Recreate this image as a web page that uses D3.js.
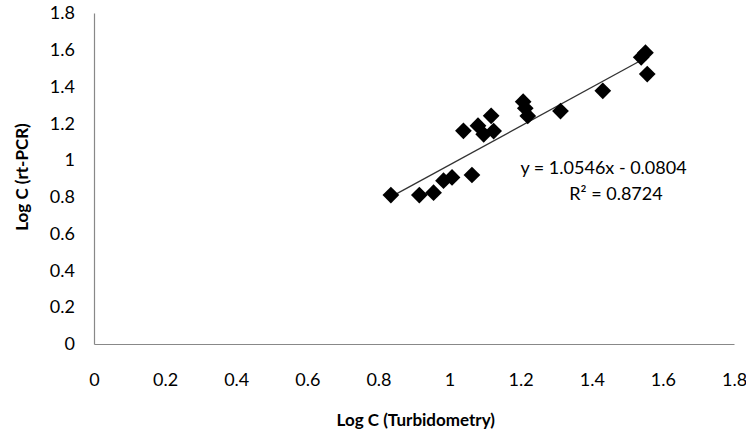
<!DOCTYPE html>
<html>
<head>
<meta charset="utf-8">
<script src="https://d3js.org/d3.v7.min.js"></script>
<style>
  body { margin: 0; background: #fff; }
  text { font-family: Lato, "Open Sans", "Liberation Sans", sans-serif; fill: #000; }
</style>
</head>
<body>
<svg width="746" height="438"></svg>
<script>
const xValues = [0.835, 0.915, 0.955, 0.983, 1.007, 1.063, 1.039, 1.080, 1.096, 1.124,
                 1.117, 1.207, 1.213, 1.220, 1.312, 1.431, 1.539, 1.551, 1.556];
const yValues = [0.810, 0.810, 0.823, 0.888, 0.906, 0.919, 1.159, 1.187, 1.140, 1.158,
                 1.241, 1.318, 1.282, 1.240, 1.267, 1.377, 1.559, 1.584, 1.468];
const xTicks = [0, 0.2, 0.4, 0.6, 0.8, 1, 1.2, 1.4, 1.6, 1.8];
const yTicks = [0, 0.2, 0.4, 0.6, 0.8, 1, 1.2, 1.4, 1.6, 1.8];
const slope = 1.0546, intercept = -0.0804, r2 = 0.8724;

const svg = d3.select("svg"),
  margin = { top: 13, right: 12, bottom: 94, left: 94 },
  width = 746 - margin.left - margin.right,
  height = 438 - margin.top - margin.bottom;

const x = d3.scaleLinear().domain([0, 1.8]).range([0, width]);
const y = d3.scaleLinear().domain([0, 1.8]).range([height, 0]);

const g = svg.append("g")
  .attr("transform", "translate(" + margin.left + "," + margin.top + ")");

// axes: plain grey lines, labels only
const xAxis = g.append("g")
  .attr("transform", "translate(0," + height + ")")
  .call(d3.axisBottom(x).tickValues(xTicks).tickSize(0).tickPadding(29).tickFormat(d3.format("~g")));
const yAxis = g.append("g")
  .call(d3.axisLeft(y).tickValues(yTicks).tickSize(0).tickPadding(19).tickFormat(d3.format("~g")));

[xAxis, yAxis].forEach(a => {
  a.select(".domain").attr("stroke", "#888").attr("stroke-width", 1.2);
  a.selectAll("text").style("font-size", "18px").attr("font-family", null);
});

// trend line
const xExt = d3.extent(xValues);
g.append("line")
  .attr("x1", x(xExt[0])).attr("y1", y(slope * xExt[0] + intercept))
  .attr("x2", x(xExt[1])).attr("y2", y(slope * xExt[1] + intercept))
  .attr("stroke", "#333").attr("stroke-width", 1.3);

// points
const pts = xValues.map((v, i) => ({ x: v, y: yValues[i] }));
g.selectAll("path.pt")
  .data(pts)
  .join("path")
  .attr("class", "pt")
  .attr("d", d3.symbol(d3.symbolSquare, 140))
  .attr("transform", d => "translate(" + x(d.x) + "," + y(d.y) + ") rotate(45)")
  .attr("fill", "#000");

// equation
g.append("text")
  .attr("x", x(1.433)).attr("y", y(0.927))
  .attr("text-anchor", "middle")
  .style("font-size", "18px")
  .text("y = " + slope + "x - 0" + Math.abs(intercept).toString().slice(1));
g.append("text")
  .attr("x", x(1.468)).attr("y", y(0.782))
  .attr("text-anchor", "middle")
  .style("font-size", "18px")
  .text("R² = " + r2);

// titles
svg.append("text")
  .attr("x", margin.left + x(0.905)).attr("y", 426)
  .attr("text-anchor", "middle")
  .style("font-size", "17px").style("font-weight", "bold")
  .text("Log C (Turbidometry)");
svg.append("text")
  .attr("transform", "translate(28,177) rotate(-90)")
  .attr("text-anchor", "middle")
  .style("font-size", "17px").style("font-weight", "bold")
  .text("Log C (rt-PCR)");
</script>
</body>
</html>
